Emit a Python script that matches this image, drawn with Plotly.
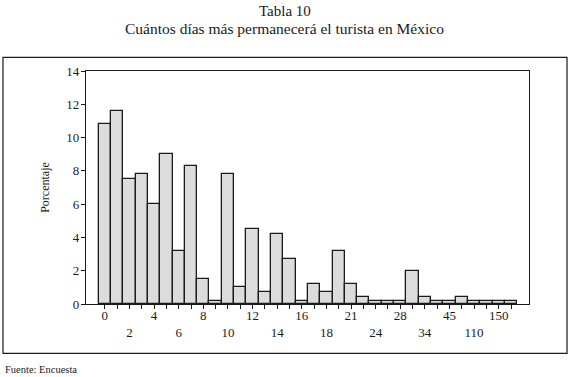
import plotly.graph_objects as go

# Categories (days) - every bar; only every other one is labelled in the reference
days = ["0", "1", "2", "3", "4", "5", "6", "7", "8", "9", "10", "11", "12", "13",
        "14", "15", "16", "17", "18", "20", "21", "22", "24", "25", "28", "30",
        "34", "40", "45", "60", "110", "120", "150", "180"]
# Percentages
pct = [10.8, 11.6, 7.5, 7.8, 6.0, 9.0, 3.2, 8.3, 1.5, 0.2, 7.8, 1.0, 4.5, 0.7,
       4.2, 2.7, 0.2, 1.2, 0.7, 3.2, 1.2, 0.45, 0.2, 0.2, 0.2, 2.0, 0.45, 0.2,
       0.2, 0.45, 0.2, 0.2, 0.2, 0.2]
y_ticks = [0, 2, 4, 6, 8, 10, 12, 14]

tick_text = []
for i, d in enumerate(days):
    if i % 2:
        tick_text.append("")
    elif i % 4 == 0:
        tick_text.append(d)
    else:
        tick_text.append("<br>" + d)

SERIF = "Liberation Serif, Times New Roman, serif"
INK = "#1a1a1a"

fig = go.Figure(go.Bar(
    x=days, y=pct,
    marker=dict(color="#dcdcdc", line=dict(color=INK, width=1.3)),
    width=1.0,
))

fig.update_layout(
    width=569, height=377,
    margin=dict(l=86, r=40, t=71, b=73),
    paper_bgcolor="white", plot_bgcolor="white",
    bargap=0,
    showlegend=False,
    font=dict(family=SERIF, size=12, color=INK),
)

fig.update_xaxes(
    type="category",
    range=[-1.53, 34.46],
    tickmode="array", tickvals=days, ticktext=tick_text,
    ticks="outside", ticklen=4, tickwidth=1, tickcolor=INK,
    showline=True, linecolor=INK, linewidth=1.2, mirror=True,
    showgrid=False, zeroline=False,
    tickangle=0, ticklabelstandoff=-5,
    tickfont=dict(family=SERIF, size=13, color=INK),
)
fig.update_yaxes(
    range=[0, 14],
    tickmode="array", tickvals=y_ticks,
    ticks="outside", ticklen=4, tickwidth=1, tickcolor=INK,
    showline=True, linecolor=INK, linewidth=1.2, mirror=True,
    showgrid=False, zeroline=False,
    ticklabelstandoff=-1,
    tickfont=dict(family=SERIF, size=13, color=INK),
    title=dict(text="Porcentaje", standoff=14,
               font=dict(family=SERIF, size=12, color=INK)),
)

# Title lines
fig.add_annotation(text="Tabla 10", xref="paper", yref="paper",
                   x=0.449, y=1.2575, xanchor="center", yanchor="middle",
                   showarrow=False, font=dict(family=SERIF, size=15, color=INK))
fig.add_annotation(text="Cuántos días más permanecerá el turista en México",
                   xref="paper", yref="paper",
                   x=0.449, y=1.184, xanchor="center", yanchor="middle",
                   showarrow=False, font=dict(family=SERIF, size=15.5, color=INK))

# Outer frame around the chart
fig.add_shape(type="rect", xref="paper", yref="paper",
              x0=-0.1874, x1=1.0858, y0=-0.2116, y1=1.0588,
              line=dict(color=INK, width=1.2), fillcolor="rgba(0,0,0,0)")

fig.add_annotation(text="Fuente: Encuesta", xref="paper", yref="paper",
                   x=-0.187, y=-0.28, xanchor="left", yanchor="middle",
                   showarrow=False,
                   font=dict(family=SERIF, size=10.5, color=INK))

fig.write_html("out.html",
               config={"displayModeBar": False},
               post_script="document.body.style.margin='0';document.body.style.overflow='hidden';")
